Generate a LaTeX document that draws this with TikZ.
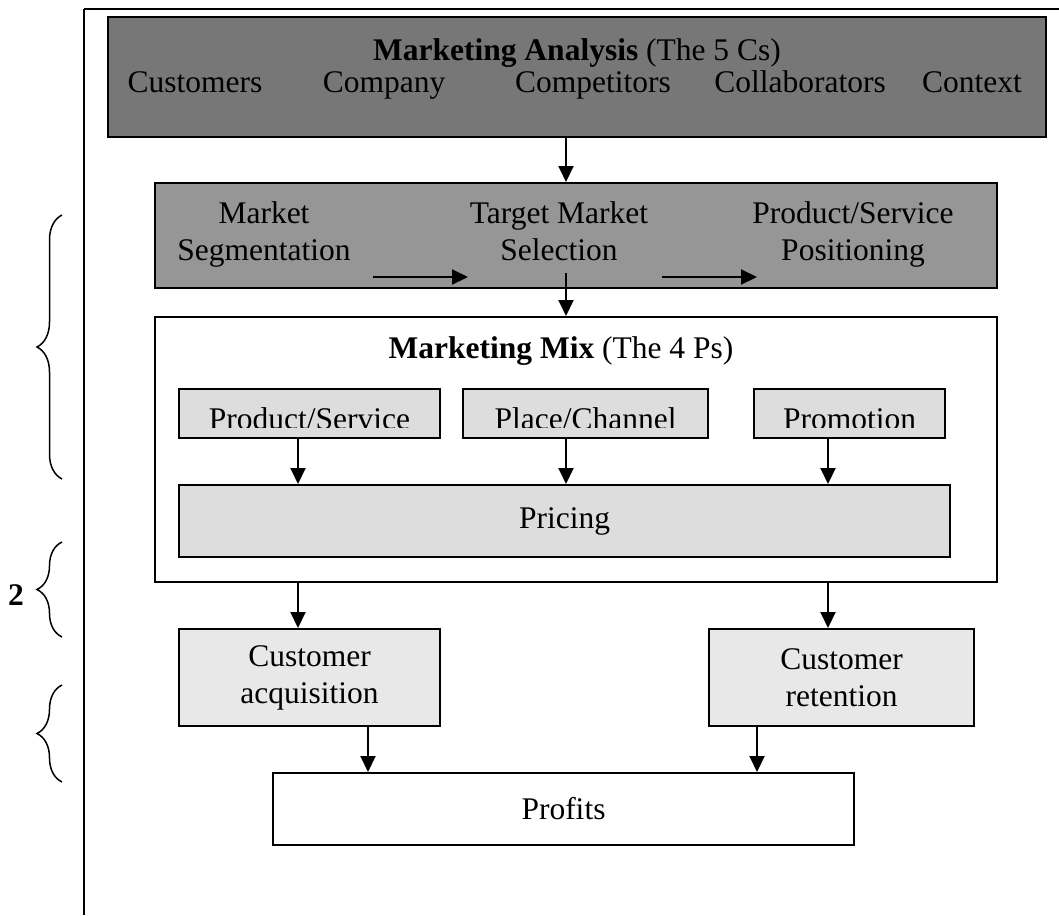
\documentclass[tikz,border=0pt]{standalone}
\usepackage{fontspec}
\setmainfont{Liberation Serif}
\usepackage{tikz}
\usetikzlibrary{arrows.meta,decorations.pathreplacing}

\definecolor{anagray}{HTML}{777777}
\definecolor{stpgray}{HTML}{969696}
\definecolor{mixgray}{HTML}{DDDDDD}
\definecolor{custgray}{HTML}{E8E8E8}

\begin{document}
\begin{tikzpicture}[x=1pt,y=-1pt,
    every node/.style={font=\fontsize{31.5}{37}\selectfont, inner sep=0pt},
    box/.style={draw, line width=2pt},
    arr/.style={line width=2pt, -{Triangle[width=15pt,length=16pt]}},
    brc/.style={decorate, decoration={brace,amplitude=25pt}, line width=1.5pt}]
    \useasboundingbox (0,0) rectangle (1059,915);
    \draw[line width=2.7pt] (1059,9) -- (84,9);
    \draw[line width=2pt] (84,9) -- (84,915);

    % columns of the arrows
    \coordinate (leftcol) at (298,0);
    \coordinate (midcol) at (566,0);
    \coordinate (rightcol) at (828,0);
    \coordinate (acqcol) at (368,0);
    \coordinate (retcol) at (757,0);

    % the 5 Cs
    \node[box, fill=anagray, minimum width=938, minimum height=120] (ana) at (577,77) {};
    \node[anchor=base] (anatitle) at (577,61) {\textbf{Marketing Analysis} (The 5 Cs)};
    \foreach \n/\x/\t in {cust/195/Customers, comp/384/Company, compet/593/Competitors,
                          collab/800/Collaborators, cont/972/Context}
        \node[anchor=base] (\n) at (\x,93) {\t};

    % segmentation, targeting, positioning
    \node[box, fill=stpgray, minimum width=842, minimum height=105] (stp) at (576,235.5) {};
    \node[anchor=north, align=center] (seg) at (264,201) {Market\\Segmentation};
    \node[anchor=north, align=center] (tms) at (559,201) {Target Market\\Selection};
    \node[anchor=north, align=center] (pos) at (853,201) {Product/Service\\Positioning};
    \coordinate (segout) at (373,277);
    \coordinate (tmsin) at (468,277);
    \coordinate (tmsout) at (662,277);
    \coordinate (posin) at (757,277);
    \draw[arr] (segout) -- (tmsin);
    \draw[arr] (tmsout) -- (posin);
    \draw[arr] (ana.south -| midcol) -- (stp.north -| midcol);

    % the 4 Ps
    \node[box, fill=white, minimum width=842, minimum height=265] (mix) at (576,449.5) {};
    \node[anchor=base] (mixtitle) at (561,358) {\textbf{Marketing Mix} (The 4 Ps)};
    \draw[arr] ([yshift=-12pt]tms.south -| midcol) -- (mix.north -| midcol);
    \foreach \n/\x/\w/\t in {ps/309.5/261/{Product/Service}, pc/585.5/245/{Place/Channel},
                             pr/849.5/191/Promotion} {
        \node[box, fill=mixgray, minimum width=\w, minimum height=49] (\n) at (\x,413.5) {};
        \begin{scope}
            \clip (\n.north west) rectangle ([yshift=11.5pt]\n.south east);
            \node[anchor=base] (\n text) at ([yshift=10pt]\n.south) {\t};
        \end{scope}
    }
    \node[box, fill=mixgray, minimum width=771, minimum height=72] (pricing) at (564.5,521) {Pricing};
    \draw[arr] (ps.south -| leftcol) -- (pricing.north -| leftcol);
    \draw[arr] (pc.south -| midcol) -- (pricing.north -| midcol);
    \draw[arr] (pr.south -| rightcol) -- (pricing.north -| rightcol);

    % customers and profits
    \node[box, fill=custgray, minimum width=261, minimum height=97, align=center] (acq) at (309.5,677.5) {Customer\\acquisition};
    \node[box, fill=custgray, minimum width=265, minimum height=97, align=center] (ret) at (841.5,677.5) {Customer\\retention};
    \node[box, fill=white, minimum width=581, minimum height=72] (profits) at (563.5,809) {Profits};
    \draw[arr] (mix.south -| leftcol) -- (acq.north -| leftcol);
    \draw[arr] (mix.south -| rightcol) -- (ret.north -| rightcol);
    \draw[arr] (acq.south -| acqcol) -- (profits.north -| acqcol);
    \draw[arr] (ret.south -| retcol) -- (profits.north -| retcol);

    % braces
    \draw[brc] (62,479) -- (62,215);
    \draw[brc] (62,637) -- (62,542);
    \draw[brc] (62,782) -- (62,685);
    \node[font=\fontsize{31.5}{37}\selectfont\bfseries] (two) at (16,595) {2};
\end{tikzpicture}
\end{document}
